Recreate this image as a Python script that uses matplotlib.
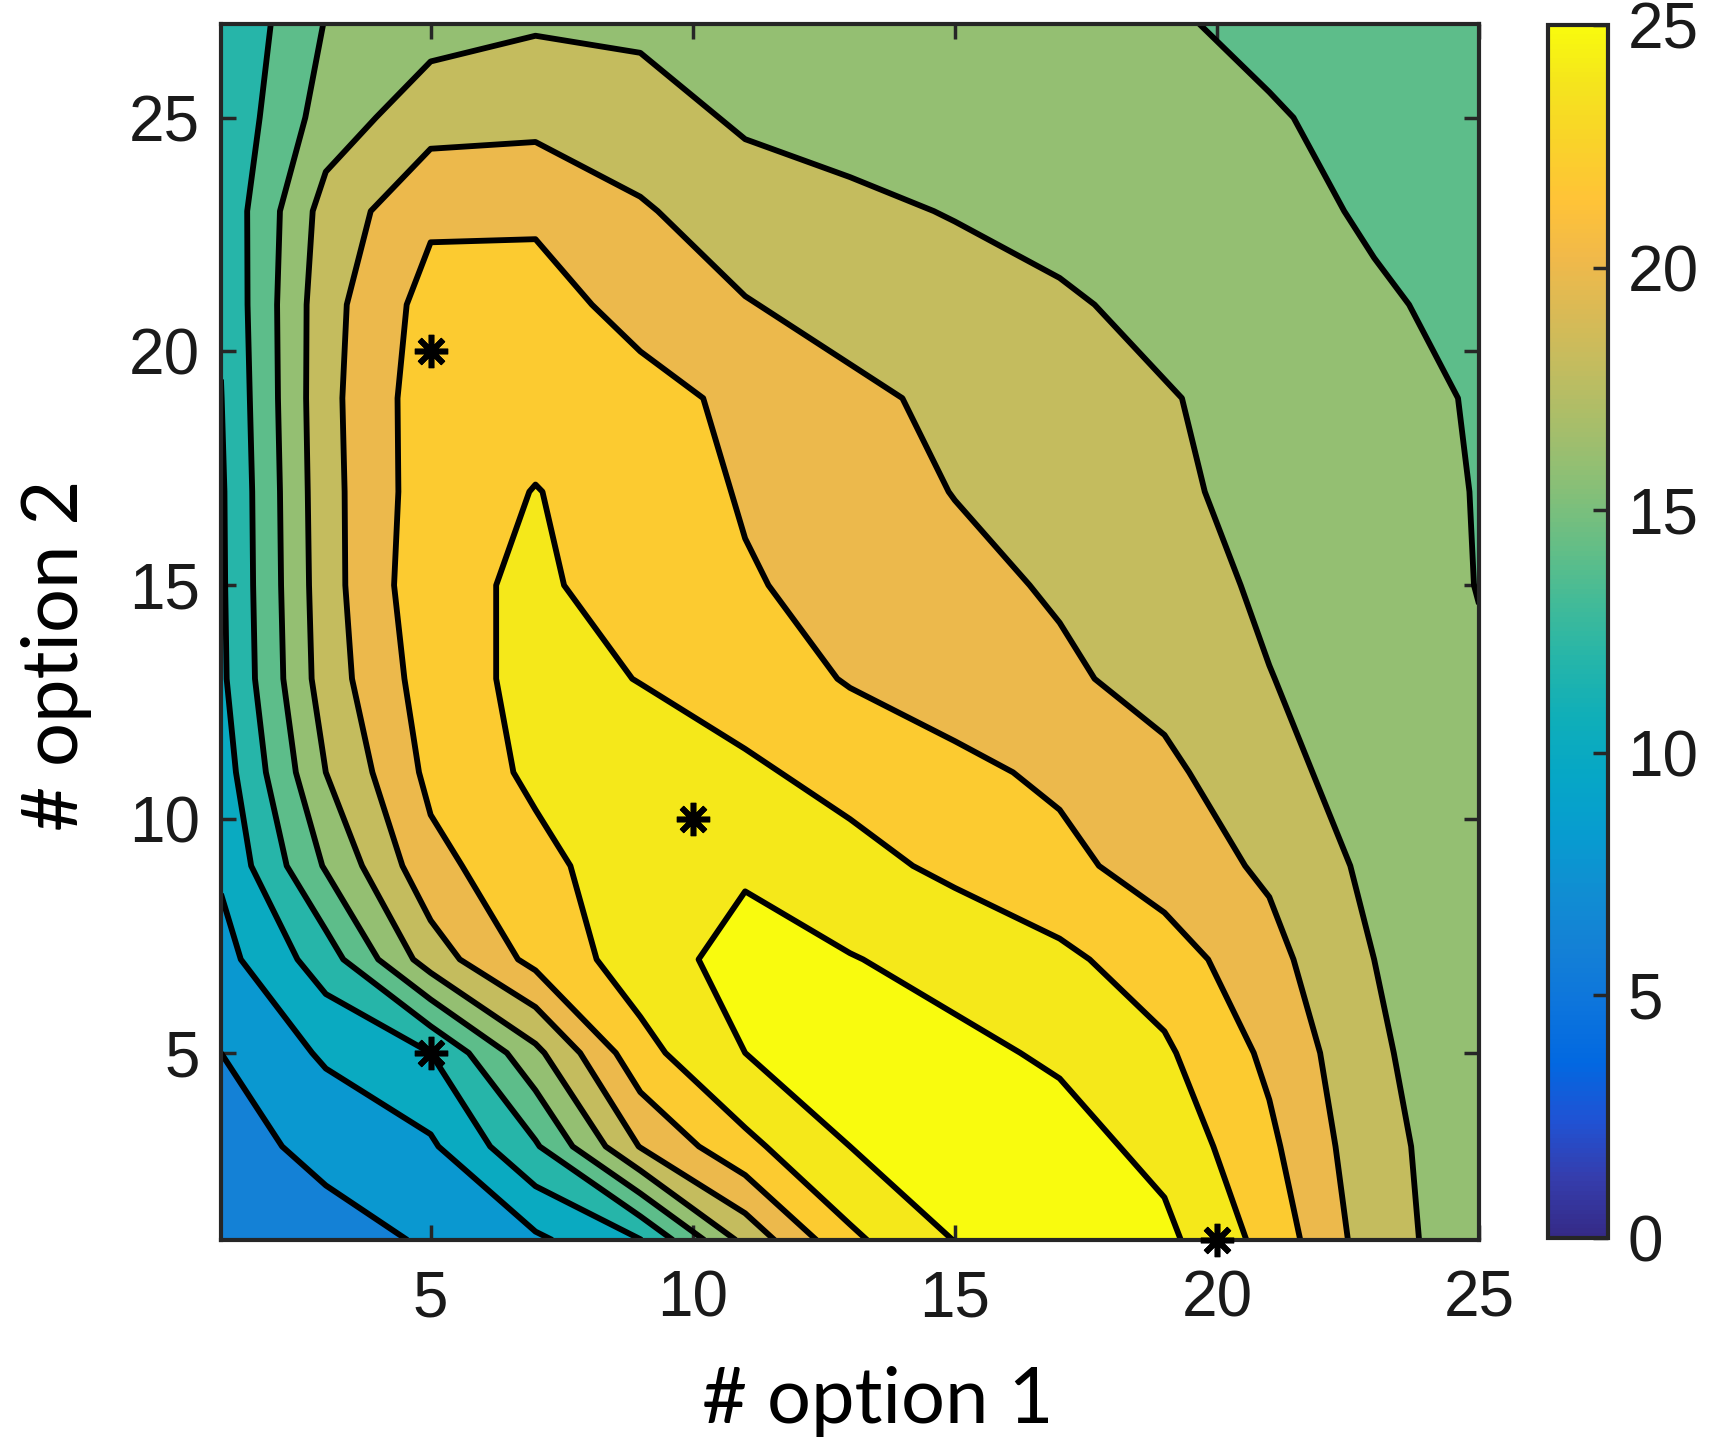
import numpy as np
import matplotlib
matplotlib.use("Agg")
import matplotlib.pyplot as plt
from matplotlib.colors import LinearSegmentedColormap, Normalize
from matplotlib.cm import ScalarMappable

# grid nodes (option 1 along x, option 2 along y)
x_nodes = [1, 3, 5, 7, 9, 11, 13, 15, 17, 19, 21, 23, 25]
y_nodes = [1, 3, 5, 7, 9, 11, 13, 15, 17, 19, 21, 23, 25, 27]

# values, one row per y node (bottom to top)
z_grid = [
    [4.6, 5.3, 6.2, 7.63, 9.93, 16.6, 21.6, 24.05, 24.9, 24.5, 21.3, 16.9, 14.8],
    [5.3, 6.5, 7.7, 11.75, 18.1, 21.5, 24.0, 24.9, 24.8, 23.4, 20.4, 16.6, 14.9],
    [6.0, 8.3, 10.0, 15.5, 21.37, 24.0, 24.7, 24.5, 23.7, 22.3, 19.6, 16.3, 14.7],
    [7.3, 11.0, 17.0, 20.6, 23.0, 24.8, 24.1, 23.3, 22.4, 21.0, 18.6, 16.0, 14.6],
    [8.3, 14.2, 19.4, 21.4, 23.2, 23.7, 22.6, 21.6, 20.6, 19.0, 17.7, 15.5, 14.5],
    [9.0, 16.0, 20.5, 22.4, 22.9, 22.3, 21.4, 20.5, 19.6, 18.4, 16.7, 15.0, 14.3],
    [9.6, 17.0, 21.0, 22.6, 21.95, 21.1, 19.85, 19.0, 18.3, 17.4, 16.05, 15.1, 14.2],
    [9.7, 17.2, 21.5, 22.3, 21.2, 20.2, 19.3, 18.5, 17.8, 16.8, 15.7, 15.0, 13.95],
    [9.75, 17.3, 21.2, 22.05, 21.3, 19.8, 18.8, 17.95, 17.2, 16.25, 15.6, 15.0, 13.9],
    [9.95, 17.4, 21.2, 21.4, 20.6, 19.6, 18.4, 17.6, 16.9, 16.1, 15.5, 14.8, 13.8],
    [10.2, 17.3, 20.8, 20.7, 19.4, 18.1, 17.3, 16.8, 16.2, 15.6, 15.0, 14.2, 13.6],
    [10.4, 16.8, 19.6, 19.7, 18.2, 17.0, 16.4, 15.9, 15.5, 15.0, 14.5, 13.8, 13.3],
    [10.3, 14.9, 17.2, 17.4, 16.9, 15.7, 15.3, 15.1, 14.9, 14.6, 14.15, 13.5, 13.1],
    [10.1, 14.1, 15.2, 15.8, 15.6, 15.3, 15.0, 14.8, 14.6, 14.2, 13.6, 13.2, 13.0],
]

contour_levels = [6, 8, 10, 12, 14, 16, 18, 20, 22, 24]

# marked configurations
star_x = [5, 10, 5, 20]
star_y = [20, 10, 5, 1]

cbar_ticks = [0, 5, 10, 15, 20, 25]
x_ticks = [5, 10, 15, 20, 25]
y_ticks = [5, 10, 15, 20, 25]

# parula (matlab default colormap), subsampled
parula_pts = [
    [0.2081, 0.1663, 0.5292], [0.2081, 0.2386, 0.6771], [0.1253, 0.3242, 0.8303],
    [0.0060, 0.4086, 0.8828], [0.0498, 0.4586, 0.8641], [0.0779, 0.5040, 0.8384],
    [0.0641, 0.5570, 0.8240], [0.0265, 0.6137, 0.8135], [0.0228, 0.6535, 0.7768],
    [0.0590, 0.6838, 0.7254], [0.1453, 0.7098, 0.6646], [0.2586, 0.7317, 0.5954],
    [0.3953, 0.7459, 0.5244], [0.5300, 0.7491, 0.4661], [0.6473, 0.7456, 0.4188],
    [0.7525, 0.7384, 0.3768], [0.8507, 0.7299, 0.3360], [0.9450, 0.7261, 0.2886],
    [0.9990, 0.7653, 0.2164], [0.9789, 0.8271, 0.1633], [0.9589, 0.8949, 0.1132],
    [0.9763, 0.9831, 0.0538],
]
parula = LinearSegmentedColormap.from_list("parula", parula_pts, N=256)

X, Y = np.meshgrid(x_nodes, y_nodes)
Z = np.array(z_grid)

# each band takes the colour of its upper level (like matlab)
fill_levels = [0] + contour_levels + [30]
band_tops = contour_levels + [25]
band_colors = [parula(min(v, 25) / 25.0) for v in band_tops]

edge = "#262626"
tick_font = "Liberation Sans"

fig = plt.figure(figsize=(17.09, 14.40), dpi=100)
ax = fig.add_axes([0.1293, 0.1389, 0.7361, 0.8444])
cax = fig.add_axes([0.9058, 0.1403, 0.0351, 0.8424])

ax.contourf(X, Y, Z, levels=fill_levels, colors=band_colors)
ax.contour(X, Y, Z, levels=contour_levels, colors="k", linewidths=4.2)

ax.plot(star_x, star_y, linestyle="none", marker=(8, 2, 0), markersize=24,
        markeredgewidth=4, color="k", clip_on=False, zorder=5)

ax.set_xlim(1, 25)
ax.set_ylim(1, 27)
ax.set_xticks(x_ticks)
ax.set_yticks(y_ticks)
ax.tick_params(axis="both", direction="in", top=True, right=True, length=11,
               width=2.5, color=edge, labelsize=46, labelcolor="#1a1a1a")
ax.tick_params(axis="x", pad=21)
ax.tick_params(axis="y", pad=15)
for lab in ax.get_xticklabels() + ax.get_yticklabels():
    lab.set_fontfamily(tick_font)
for sp in ax.spines.values():
    sp.set_linewidth(3.0)
    sp.set_color(edge)

# axis titles (placed on the figure)
fig.text(0.5137, 0.0118, "# option 1", fontsize=56, family="Lato",
         ha="center", va="baseline")
fig.text(0.0456, 0.5448, "# option 2", fontsize=56, family="Lato",
         rotation=90, rotation_mode="anchor", ha="center", va="baseline")

sm = ScalarMappable(norm=Normalize(0, 25), cmap=parula)
cb = fig.colorbar(sm, cax=cax, ticks=cbar_ticks)
cb.outline.set_linewidth(3.0)
cb.outline.set_edgecolor(edge)
cax.tick_params(direction="in", length=11, width=2.5, color=edge, labelsize=46,
                labelcolor="#1a1a1a", pad=14)
for lab in cax.get_yticklabels():
    lab.set_fontfamily(tick_font)

fig.savefig("out.png", dpi=100)
